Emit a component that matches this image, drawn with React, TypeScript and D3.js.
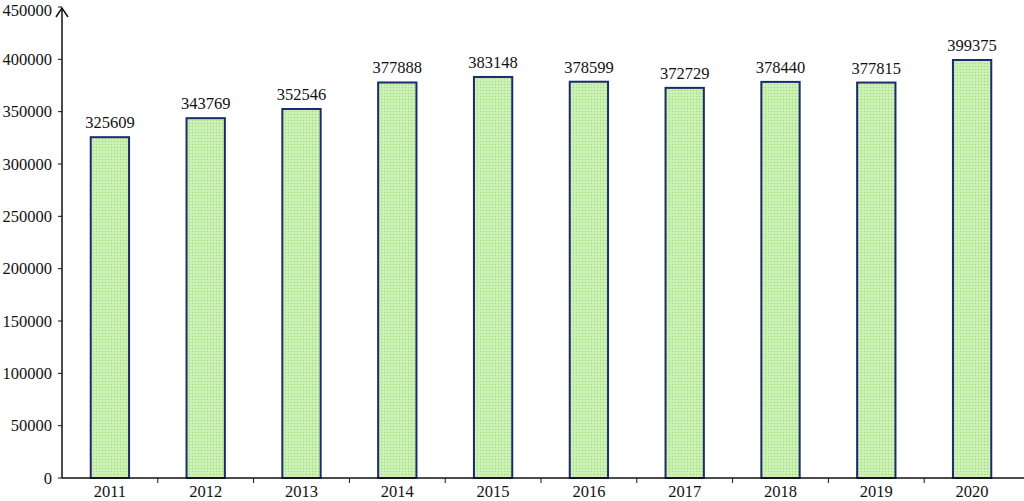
import React, { useEffect, useRef } from "react";
import * as d3 from "d3";

const years = ["2011", "2012", "2013", "2014", "2015", "2016", "2017", "2018", "2019", "2020"];
const values = [325609, 343769, 352546, 377888, 383148, 378599, 372729, 378440, 377815, 399375];
const yTicks = [0, 50000, 100000, 150000, 200000, 250000, 300000, 350000, 400000, 450000];

const W = 1024;
const H = 501;
const FONT = "Liberation Serif, Times New Roman, serif";

const App = () => {
  const ref = useRef<SVGSVGElement>(null);

  useEffect(() => {
    const svg = d3.select(ref.current);
    svg.selectAll("*").remove();

    const left = 62, right = 1020, top = 7, bottom = 478;

    const x = d3.scaleBand().domain(years).range([left, right]).paddingInner(0.6).paddingOuter(0.3);
    const y = d3.scaleLinear().domain([0, 450000]).range([bottom, top]);

    const defs = svg.append("defs");
    const pat = defs.append("pattern")
      .attr("id", "dots")
      .attr("width", 3)
      .attr("height", 3)
      .attr("patternUnits", "userSpaceOnUse");
    pat.append("rect").attr("width", 3).attr("height", 3).attr("fill", "#c6efac");
    pat.append("rect").attr("x", 0).attr("y", 0).attr("width", 1).attr("height", 1).attr("fill", "#a2da84");
    pat.append("rect").attr("x", 1.5).attr("y", 1.5).attr("width", 1).attr("height", 1).attr("fill", "#e2f8d4");

    const data = years.map((yr, i) => ({ yr, v: values[i] }));

    svg.append("g").selectAll("rect").data(data).join("rect")
      .attr("x", d => x(d.yr)!)
      .attr("y", d => y(d.v))
      .attr("width", x.bandwidth())
      .attr("height", d => bottom - y(d.v))
      .attr("fill", "url(#dots)")
      .attr("stroke", "#1c2a6e")
      .attr("stroke-width", 2);

    svg.append("g").selectAll("text").data(data).join("text")
      .attr("x", d => x(d.yr)! + x.bandwidth() / 2)
      .attr("y", d => y(d.v) - 9)
      .attr("text-anchor", "middle")
      .attr("font-family", FONT)
      .attr("font-size", 16.5)
      .attr("fill", "#111")
      .text(d => d.v);

    // y axis with arrow
    const ya = svg.append("g");
    ya.append("line").attr("x1", left).attr("x2", left).attr("y1", bottom).attr("y2", top + 2)
      .attr("stroke", "#111").attr("stroke-width", 1.5);
    ya.append("path")
      .attr("d", `M${left - 6},${top + 10} L${left},${top + 1} L${left + 6},${top + 10}`)
      .attr("fill", "none").attr("stroke", "#111").attr("stroke-width", 1.5);
    ya.selectAll("line.t").data(yTicks).join("line").attr("class", "t")
      .attr("x1", left - 4).attr("x2", left).attr("y1", d => y(d)).attr("y2", d => y(d))
      .attr("stroke", "#111");
    ya.selectAll("text").data(yTicks).join("text")
      .attr("x", left - 10)
      .attr("y", d => Math.max(y(d), 10))
      .attr("dy", "0.35em")
      .attr("text-anchor", "end")
      .attr("font-family", FONT)
      .attr("font-size", 16.5)
      .attr("fill", "#111")
      .text(d => d);

    // x axis
    const xa = svg.append("g");
    xa.append("line").attr("x1", left).attr("x2", W).attr("y1", bottom).attr("y2", bottom)
      .attr("stroke", "#111").attr("stroke-width", 1.5);
    const step = x.step();
    const bounds = years.slice(1).map((yr) => x(yr)! - step * 0.3);
    xa.selectAll("line.t").data(bounds).join("line").attr("class", "t")
      .attr("x1", d => d).attr("x2", d => d).attr("y1", bottom).attr("y2", bottom + 5)
      .attr("stroke", "#111");
    xa.selectAll("text").data(years).join("text")
      .attr("x", d => x(d)! + x.bandwidth() / 2)
      .attr("y", bottom + 19)
      .attr("text-anchor", "middle")
      .attr("font-family", FONT)
      .attr("font-size", 16.5)
      .attr("fill", "#111")
      .text(d => d);
  }, []);

  return (
    <svg ref={ref} width={W} height={H} viewBox={`0 0 ${W} ${H}`}
      style={{ position: "absolute", left: 0, top: 0, background: "#fff" }} />
  );
};

export default App;
